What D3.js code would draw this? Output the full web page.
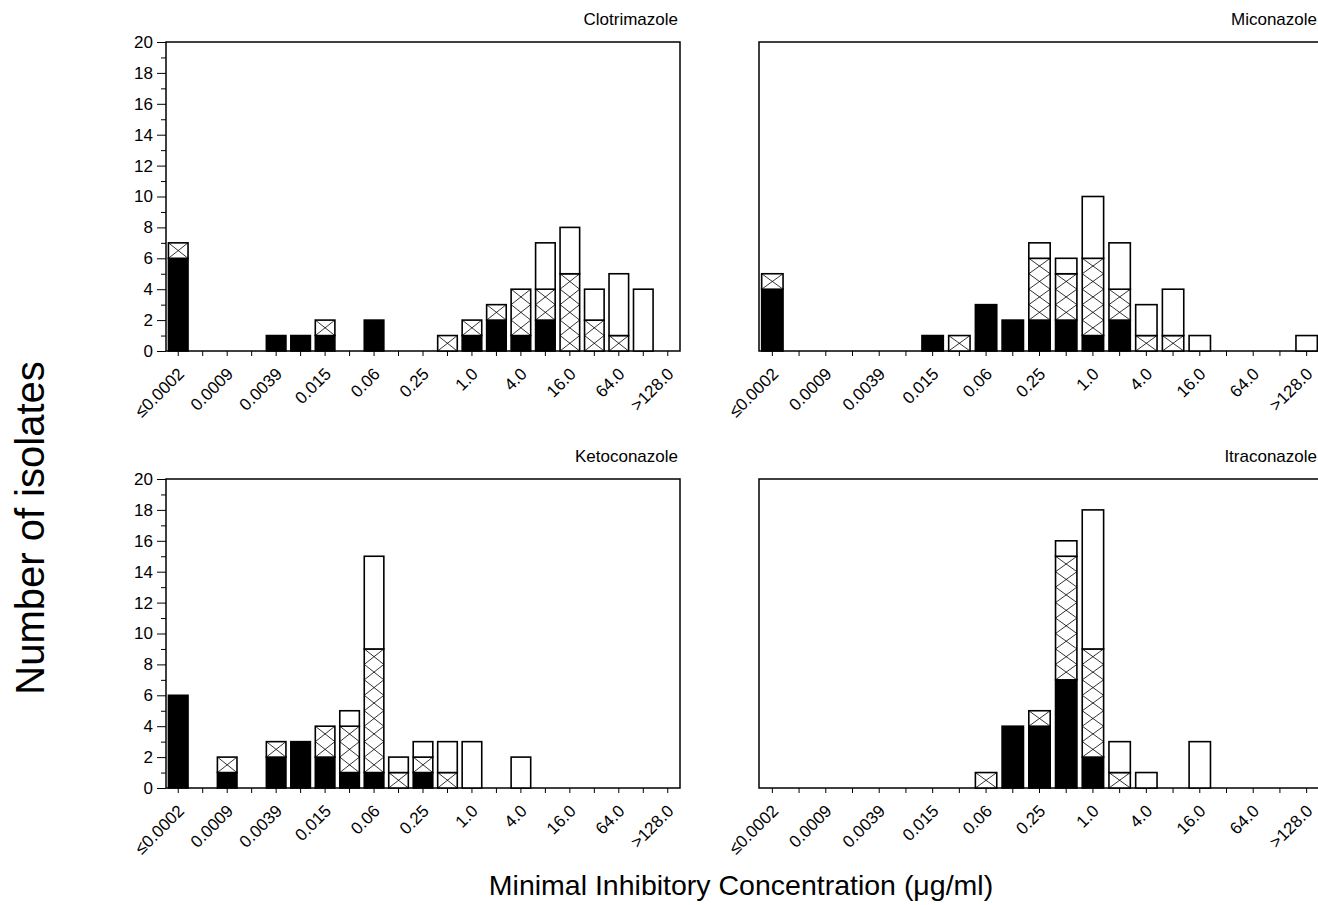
<!DOCTYPE html>
<html>
<head>
<meta charset="utf-8">
<script src="https://cdn.jsdelivr.net/npm/d3@7"></script>
<style>
body { margin: 0; background: #fff; }
svg { display: block; font-family: "Liberation Sans", Arial, sans-serif; }
</style>
</head>
<body>
<svg id="main" width="1318" height="905"></svg>
<script>
// MIC bins (doubling dilutions, ug/ml)
const bins = ['≤0.0002', '0.0005', '0.0009', '0.0019', '0.0039', '0.0078', '0.015', '0.03', '0.06', '0.125',
    '0.25', '0.5', '1.0', '2.0', '4.0', '8.0', '16.0', '32.0', '64.0', '128.0', '>128.0'];
const tickLabels = ['≤0.0002', '0.0009', '0.0039', '0.015', '0.06', '0.25', '1.0', '4.0', '16.0', '64.0', '>128.0'];
const yMajor = [0, 2, 4, 6, 8, 10, 12, 14, 16, 18, 20];
const yMinor = [1, 3, 5, 7, 9, 11, 13, 15, 17, 19];

// counts per bin: solid (black), hatched (cross-hatch), open (white)
const clotrimazoleSolid   = [6, 0, 0, 0, 1, 1, 1, 0, 2, 0, 0, 0, 1, 2, 1, 2, 0, 0, 0, 0, 0];
const clotrimazoleHatched = [1, 0, 0, 0, 0, 0, 1, 0, 0, 0, 0, 1, 1, 1, 3, 2, 5, 2, 1, 0, 0];
const clotrimazoleOpen    = [0, 0, 0, 0, 0, 0, 0, 0, 0, 0, 0, 0, 0, 0, 0, 3, 3, 2, 4, 4, 0];

const miconazoleSolid   = [4, 0, 0, 0, 0, 0, 1, 0, 3, 2, 2, 2, 1, 2, 0, 0, 0, 0, 0, 0, 0];
const miconazoleHatched = [1, 0, 0, 0, 0, 0, 0, 1, 0, 0, 4, 3, 5, 2, 1, 1, 0, 0, 0, 0, 0];
const miconazoleOpen    = [0, 0, 0, 0, 0, 0, 0, 0, 0, 0, 1, 1, 4, 3, 2, 3, 1, 0, 0, 0, 1];

const ketoconazoleSolid   = [6, 0, 1, 0, 2, 3, 2, 1, 1, 0, 1, 0, 0, 0, 0, 0, 0, 0, 0, 0, 0];
const ketoconazoleHatched = [0, 0, 1, 0, 1, 0, 2, 3, 8, 1, 1, 1, 0, 0, 0, 0, 0, 0, 0, 0, 0];
const ketoconazoleOpen    = [0, 0, 0, 0, 0, 0, 0, 1, 6, 1, 1, 2, 3, 0, 2, 0, 0, 0, 0, 0, 0];

const itraconazoleSolid   = [0, 0, 0, 0, 0, 0, 0, 0, 0, 4, 4, 7, 2, 0, 0, 0, 0, 0, 0, 0, 0];
const itraconazoleHatched = [0, 0, 0, 0, 0, 0, 0, 0, 1, 0, 1, 8, 7, 1, 0, 0, 0, 0, 0, 0, 0];
const itraconazoleOpen    = [0, 0, 0, 0, 0, 0, 0, 0, 0, 0, 0, 1, 9, 2, 1, 0, 3, 0, 0, 0, 0];

const panels = [
    { title: 'Clotrimazole', solid: clotrimazoleSolid, hatched: clotrimazoleHatched, open: clotrimazoleOpen,
      left: 166, right: 680, top: 42, bottom: 351, titleX: 678, yAxis: true },
    { title: 'Miconazole', solid: miconazoleSolid, hatched: miconazoleHatched, open: miconazoleOpen,
      left: 759, right: 1320, top: 42, bottom: 351, titleX: 1317, yAxis: false },
    { title: 'Ketoconazole', solid: ketoconazoleSolid, hatched: ketoconazoleHatched, open: ketoconazoleOpen,
      left: 166, right: 680, top: 479, bottom: 788, titleX: 678, yAxis: true },
    { title: 'Itraconazole', solid: itraconazoleSolid, hatched: itraconazoleHatched, open: itraconazoleOpen,
      left: 759, right: 1320, top: 479, bottom: 788, titleX: 1317, yAxis: false }
];

const svg = d3.select('#main');
const fills = { solid: '#000', hatched: '#fff', open: '#fff' };
const font = '"Liberation Sans", Arial, sans-serif';

function drawPanel(p) {
    const x = d3.scaleBand()
        .domain(bins)
        .range([p.left, p.right])
        .paddingInner(0.2)
        .paddingOuter(0.1);
    const y = d3.scaleLinear().domain([0, 20]).range([p.bottom, p.top]);

    const rows = bins.map((b, i) => ({ bin: b, solid: p.solid[i], hatched: p.hatched[i], open: p.open[i] }));
    const series = d3.stack().keys(['solid', 'hatched', 'open'])(rows);

    const g = svg.append('g');

    g.append('rect')
        .attr('x', p.left)
        .attr('y', p.top)
        .attr('width', p.right - p.left)
        .attr('height', p.bottom - p.top)
        .attr('fill', 'none')
        .attr('stroke', '#000')
        .attr('stroke-width', 1.5);

    g.selectAll('g.layer')
        .data(series)
        .join('g')
        .attr('class', 'layer')
        .attr('fill', d => fills[d.key])
        .selectAll('rect')
        .data(d => d.filter(s => s[1] > s[0]))
        .join('rect')
        .attr('x', d => x(d.data.bin))
        .attr('width', x.bandwidth())
        .attr('y', d => y(d[1]))
        .attr('height', d => y(d[0]) - y(d[1]))
        .attr('stroke', '#000')
        .attr('stroke-width', 1.6);

    // cross-hatch: one X per isolate, corner to corner
    const hatchUnits = series.find(s => s.key === 'hatched')
        .filter(s => s[1] > s[0])
        .flatMap(s => d3.range(s[0], s[1]).map(k => ({ bin: s.data.bin, k })));
    g.append('g')
        .selectAll('path')
        .data(hatchUnits)
        .join('path')
        .attr('d', d => {
            const x0 = x(d.bin);
            const x1 = x0 + x.bandwidth();
            return `M${x0},${y(d.k)}L${x1},${y(d.k + 1)}M${x1},${y(d.k)}L${x0},${y(d.k + 1)}`;
        })
        .attr('fill', 'none')
        .attr('stroke', '#000')
        .attr('stroke-width', 0.8);

    // x axis: a tick on every bin, a label on every other one
    const xAxis = d3.axisBottom(x)
        .tickSize(5)
        .tickSizeOuter(0)
        .tickFormat(d => (tickLabels.includes(d) ? d : ''));
    const xg = g.append('g')
        .attr('transform', `translate(0, ${p.bottom})`)
        .call(xAxis);
    xg.select('.domain').remove();
    xg.selectAll('.tick line').attr('stroke', '#000');
    xg.selectAll('.tick text')
        .attr('x', 0)
        .attr('y', 0)
        .attr('dy', null)
        .attr('text-anchor', 'end')
        .attr('transform', 'translate(7, 24) rotate(-45)')
        .attr('fill', '#000')
        .attr('font-size', 17)
        .attr('font-family', font);

    if (p.yAxis) {
        const yg = g.append('g')
            .attr('transform', `translate(${p.left}, 0)`)
            .call(d3.axisLeft(y).tickValues(yMajor).tickSize(9).tickPadding(4).tickSizeOuter(0));
        yg.select('.domain').remove();
        yg.selectAll('.tick text')
            .attr('fill', '#000')
            .attr('font-size', 17)
            .attr('font-family', font);

        const ym = g.append('g')
            .attr('transform', `translate(${p.left}, 0)`)
            .call(d3.axisLeft(y).tickValues(yMinor).tickSize(5).tickFormat('').tickSizeOuter(0));
        ym.select('.domain').remove();
    }

    g.append('text')
        .attr('x', p.titleX)
        .attr('y', p.top - 17)
        .attr('text-anchor', 'end')
        .attr('font-size', 17)
        .text(p.title);
}

panels.forEach(drawPanel);

svg.append('text')
    .attr('text-anchor', 'middle')
    .attr('font-size', 40)
    .attr('transform', 'translate(44, 528) rotate(-90)')
    .text('Number of isolates');

svg.append('text')
    .attr('text-anchor', 'middle')
    .attr('font-size', 28.5)
    .attr('x', 741)
    .attr('y', 895)
    .text('Minimal Inhibitory Concentration (μg/ml)');
</script>
</body>
</html>
